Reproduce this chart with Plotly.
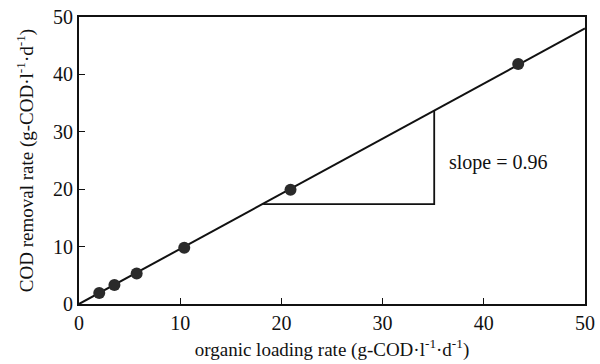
import plotly.graph_objects as go

olr = [2.0, 3.5, 5.7, 10.4, 20.9, 43.4]
removal = [1.9, 3.3, 5.3, 9.8, 19.9, 41.8]
fit_x = [0, 50]
fit_y = [0, 48.0]
tri_x = [18.2, 35.1, 35.1]
tri_y = [17.4, 17.4, 33.7]
ticks = [0, 10, 20, 30, 40, 50]

font = "Liberation Serif"
fig = go.Figure()
fig.add_trace(go.Scatter(x=fit_x, y=fit_y, mode="lines",
                         line=dict(color="#111", width=2), showlegend=False))
fig.add_trace(go.Scatter(x=tri_x, y=tri_y, mode="lines",
                         line=dict(color="#111", width=1.8), showlegend=False))
fig.add_trace(go.Scatter(x=olr, y=removal, mode="markers",
                         marker=dict(size=12, color="#2a2a2a"), showlegend=False))
fig.add_annotation(x=36.4, y=24.6, text="slope = 0.96", showarrow=False,
                   xanchor="left", yanchor="middle",
                   font=dict(family=font, size=20, color="#111"))

axis_common = dict(range=[0, 50], tickvals=ticks, ticks="inside", ticklen=6,
                   tickwidth=1.2, tickcolor="#111", showline=True, linecolor="#111",
                   linewidth=1.8, mirror=True, showgrid=False, zeroline=False,
                   automargin=False,
                   tickfont=dict(family=font, size=20, color="#111"))
fig.update_xaxes(**axis_common,
                 title=dict(text="organic loading rate (g-COD·l<sup>-1</sup>·d<sup>-1</sup>)",
                            font=dict(family=font, size=19, color="#111"), standoff=10))
fig.update_yaxes(**axis_common,
                 title=dict(text="COD removal rate (g-COD·l<sup>-1</sup>·d<sup>-1</sup>)",
                            font=dict(family=font, size=19, color="#111"), standoff=14))
fig.update_layout(width=600, height=364, margin=dict(l=79, r=15, t=17, b=60),
                  plot_bgcolor="white", paper_bgcolor="white")
fig.write_html("out.html")
